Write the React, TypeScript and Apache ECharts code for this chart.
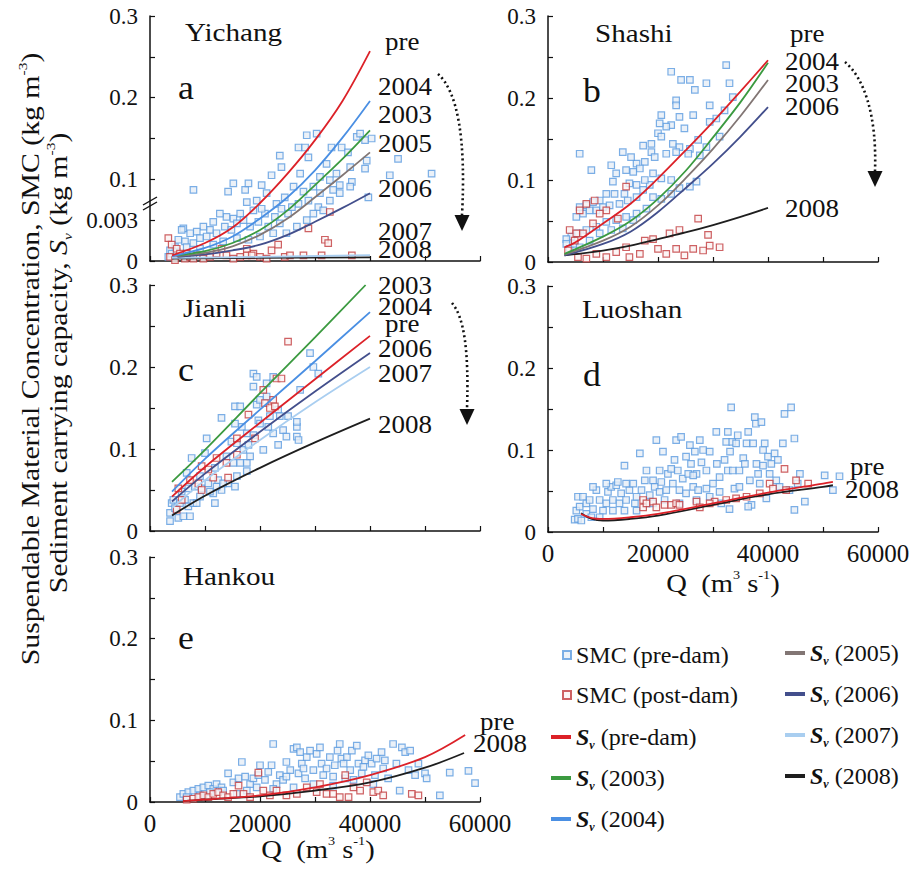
import React, { useEffect, useRef } from 'react';
import * as echarts from 'echarts';

const FONT = 'Liberation Serif';

// ---------- colours ----------
const COL = {
  smcPre: '#5b9be0', smcPreFill: '#e6eef6',
  smcPost: '#c23b3d', smcPostFill: '#fbf3f3',
  pre: '#dc2128', y2003: '#3b9a40', y2004: '#4a8fe3', y2005: '#827674',
  y2006: '#434f8c', y2007: '#a9cef0', y2008: '#1e1e1e',
};

// ---------- axes ----------
const X_TICKS = [0, 20000, 40000, 60000];
const Y_TICKS = [0, 0.1, 0.2, 0.3];

// ---------- (a) Yichang ----------
const yichangPreDam = [[7900,0.087],[14200,0.085],[15150,0.095],[17300,0.087],[17900,0.095],[20300,0.093],[22100,0.105],[23600,0.129],[23900,0.115],[27000,0.139],[28200,0.139],[28500,0.154],[30300,0.156],[28800,0.127],[27300,0.107],[32100,0.119],[33000,0.139],[34850,0.139],[36000,0.133],[37600,0.152],[38200,0.156],[39100,0.148],[40300,0.150],[39400,0.123],[39100,0.113],[36400,0.115],[36700,0.097],[36400,0.091],[34500,0.093],[32700,0.099],[33900,0.107],[30900,0.103],[29700,0.091],[27900,0.085],[26100,0.091],[24500,0.078],[23000,0.070],[21200,0.083],[19400,0.074],[17600,0.072],[18800,0.062],[20900,0.058],[22700,0.054],[25100,0.058],[27000,0.070],[28800,0.074],[30600,0.066],[32700,0.074],[34500,0.083],[39700,0.078],[43600,0.105],[45100,0.125],[51200,0.107],[16400,0.058],[15150,0.052],[13900,0.054],[12700,0.058],[11500,0.048],[10900,0.038],[9700,0.042],[8500,0.036],[7300,0.034],[6060,0.040],[5760,0.038],[6360,0.024],[5150,0.026],[4545,0.017],[3640,0.013],[3330,0.005],[3940,0.009],[4850,0.011],[6670,0.017],[7880,0.022],[9090,0.028],[10300,0.030],[12100,0.034],[13600,0.042],[14800,0.038],[15800,0.046],[17000,0.050],[18200,0.042],[19700,0.048],[21500,0.042],[23600,0.046],[24800,0.034],[22400,0.034],[20000,0.030],[17900,0.026],[15800,0.028],[13300,0.024],[11500,0.020],[9090,0.015],[26700,0.042],[28500,0.050],[29700,0.058],[31500,0.062],[33300,0.087],[30900,0.083],[25800,0.066],[23900,0.064],[20300,0.064]];
const yichangPostDam = [[3330,0.028],[3940,0.020],[4850,0.015],[5450,0.009],[3640,0.005],[4545,0.001],[6360,0.003],[7270,0.005],[8480,0.007],[9700,0.003],[10900,0.005],[12100,0.009],[13000,0.015],[13900,0.007],[15150,0.003],[16400,0.005],[17600,0.007],[18800,0.009],[20000,0.005],[21200,0.003],[22100,0.013],[23300,0.020],[24500,0.005],[25450,0.007],[27900,0.007],[28800,0.040],[31200,0.007],[31800,0.026],[32400,0.022],[32700,0.060],[36700,0.007],[6670,0.009],[7880,0.003],[17600,0.015],[18500,0.007]];
const yichangSvPre = [[4000,0.007],[10000,0.022],[15000,0.041],[20000,0.071],[25000,0.107],[30000,0.148],[35000,0.196],[40000,0.257]];
const yichangSv2004 = [[4000,0.006],[10000,0.016],[15000,0.030],[20000,0.052],[25000,0.078],[30000,0.111],[35000,0.151],[40000,0.196]];
const yichangSv2003 = [[5000,0.007],[10000,0.012],[15000,0.022],[20000,0.038],[25000,0.062],[30000,0.093],[35000,0.125],[40000,0.160]];
const yichangSv2005 = [[5000,0.006],[10000,0.010],[15000,0.018],[20000,0.032],[25000,0.052],[30000,0.078],[35000,0.105],[40000,0.133]];
const yichangSv2006 = [[5000,0.005],[10000,0.008],[15000,0.013],[20000,0.020],[25000,0.032],[30000,0.048],[35000,0.065],[40000,0.083]];
const yichangSv2007 = [[4000,0.004],[20000,0.005],[40000,0.0073]];
const yichangSv2008 = [[4000,0.003],[20000,0.004],[40000,0.0045]];

// ---------- (b) Shashi ----------
const shashiPreDam = [[5760,0.132],[7880,0.112],[11500,0.118],[13600,0.134],[17300,0.142],[18800,0.134],[20600,0.179],[22400,0.167],[22400,0.232],[23300,0.197],[23300,0.191],[24200,0.222],[25800,0.222],[26700,0.210],[28800,0.218],[29400,0.191],[32400,0.240],[33000,0.218],[33600,0.201],[32100,0.185],[30600,0.175],[29400,0.171],[26400,0.179],[23900,0.177],[24800,0.163],[21500,0.165],[20300,0.169],[20000,0.157],[20600,0.153],[18800,0.144],[22700,0.144],[23900,0.140],[25800,0.138],[27300,0.149],[27600,0.130],[28800,0.140],[31200,0.153],[25500,0.132],[23300,0.134],[21500,0.132],[19400,0.128],[17600,0.122],[16100,0.120],[15100,0.128],[14200,0.112],[15500,0.110],[16700,0.114],[19100,0.108],[20600,0.102],[22400,0.100],[18500,0.094],[17600,0.100],[16100,0.094],[14800,0.096],[13900,0.083],[12100,0.083],[12400,0.108],[11800,0.098],[10600,0.083],[9400,0.075],[8180,0.073],[6970,0.069],[5760,0.067],[6360,0.059],[5150,0.055],[7570,0.063],[8790,0.063],[10000,0.067],[11200,0.069],[13000,0.071],[14500,0.075],[16100,0.079],[17300,0.088],[19100,0.079],[20600,0.077],[22400,0.083],[23900,0.090],[25800,0.092],[27000,0.098],[17900,0.065],[16100,0.059],[14200,0.055],[12400,0.051],[10600,0.049],[8790,0.043],[6970,0.039],[5450,0.035],[4240,0.031],[3330,0.028],[3330,0.022],[3940,0.016],[4850,0.022],[5760,0.018],[7570,0.026],[9400,0.035],[11500,0.039],[13600,0.041],[15500,0.051]];
const shashiPostDam = [[3940,0.039],[5150,0.035],[5760,0.063],[6970,0.071],[8480,0.075],[10600,0.063],[14200,0.092],[12700,0.053],[9400,0.059],[8180,0.047],[6360,0.035],[4850,0.026],[3640,0.014],[5450,0.006],[6970,0.004],[8790,0.010],[10600,0.006],[12400,0.012],[14200,0.018],[14800,0.006],[16700,0.010],[17600,0.026],[19100,0.028],[20000,0.016],[21500,0.010],[22100,0.035],[23900,0.039],[23300,0.016],[24800,0.008],[26400,0.016],[27300,0.053],[29400,0.020],[29100,0.033],[31200,0.018],[28200,0.014]];
const shashiSvPre = [[3000,0.018],[5000,0.024],[10000,0.047],[15000,0.071],[20000,0.102],[25000,0.136],[30000,0.171],[35000,0.208],[40000,0.246]];
const shashiSv2003 = [[3000,0.010],[10000,0.031],[15000,0.050],[20000,0.077],[25000,0.111],[30000,0.152],[35000,0.195],[40000,0.243]];
const shashiSv2005 = [[3000,0.009],[10000,0.026],[15000,0.043],[20000,0.069],[25000,0.102],[30000,0.138],[35000,0.178],[40000,0.222]];
const shashiSv2006 = [[3000,0.008],[10000,0.022],[15000,0.037],[20000,0.061],[25000,0.090],[30000,0.120],[35000,0.153],[40000,0.189]];
const shashiSv2008 = [[3000,0.008],[10000,0.014],[15000,0.020],[20000,0.028],[25000,0.036],[30000,0.045],[35000,0.055],[40000,0.066]];

// ---------- (c) Jianli ----------
const jianliPreDam = [[3640,0.012],[3640,0.022],[3940,0.034],[4240,0.038],[4545,0.028],[5150,0.016],[6060,0.018],[7270,0.018],[5450,0.034],[6360,0.038],[6970,0.030],[7880,0.034],[5760,0.048],[6970,0.052],[8180,0.054],[9090,0.042],[9390,0.052],[10600,0.058],[11800,0.034],[11500,0.046],[13000,0.050],[14200,0.058],[15450,0.054],[15800,0.067],[7570,0.089],[10000,0.095],[10300,0.113],[11800,0.077],[13000,0.138],[14800,0.109],[15150,0.083],[15450,0.152],[16400,0.152],[16700,0.127],[16970,0.099],[17600,0.083],[17600,0.073],[18800,0.192],[19400,0.188],[18800,0.176],[19400,0.154],[19700,0.135],[20000,0.131],[18800,0.117],[20600,0.099],[17900,0.105],[21200,0.180],[22400,0.188],[21800,0.140],[23300,0.148],[23600,0.140],[22400,0.119],[23300,0.105],[24200,0.123],[24800,0.115],[25100,0.140],[26700,0.115],[27000,0.111],[27300,0.172],[26700,0.127],[26700,0.133],[29100,0.217],[29700,0.200],[30600,0.192],[12100,0.054],[10900,0.048],[12400,0.062],[13300,0.058],[9090,0.067],[8480,0.034],[6670,0.071],[16400,0.083],[18200,0.091],[17600,0.119],[15450,0.131],[15800,0.107],[13900,0.091],[21500,0.127],[20000,0.160],[21200,0.164]];
const jianliPostDam = [[4850,0.026],[5760,0.038],[5150,0.052],[7270,0.062],[8790,0.058],[9390,0.050],[10600,0.075],[12100,0.089],[11500,0.065],[13900,0.083],[14200,0.065],[15800,0.093],[15800,0.113],[17900,0.142],[19100,0.113],[20600,0.172],[20900,0.156],[21800,0.150],[22400,0.160],[22700,0.152],[23000,0.186],[23900,0.186],[25100,0.231],[9390,0.079]];
const jianliSv2003 = [[4000,0.060],[10000,0.099],[20000,0.168],[30000,0.236],[39200,0.300]];
const jianliSv2004 = [[4000,0.048],[10000,0.088],[20000,0.148],[30000,0.207],[40000,0.267]];
const jianliSvPre = [[4000,0.042],[10000,0.078],[20000,0.132],[30000,0.185],[40000,0.238]];
const jianliSv2006 = [[4000,0.036],[10000,0.070],[20000,0.121],[30000,0.170],[40000,0.217]];
const jianliSv2007 = [[4000,0.028],[10000,0.062],[20000,0.111],[30000,0.157],[40000,0.200]];
const jianliSv2008 = [[4000,0.019],[10000,0.043],[20000,0.077],[30000,0.108],[40000,0.137]];

// ---------- (d) Luoshan ----------
const luoshanPreDam = [[4850,0.015],[5450,0.016],[6060,0.014],[5150,0.026],[5760,0.031],[5450,0.043],[6360,0.043],[6970,0.035],[7570,0.039],[6970,0.022],[7880,0.018],[8180,0.028],[8790,0.051],[9390,0.039],[10000,0.026],[10600,0.035],[10900,0.049],[11500,0.055],[11800,0.039],[12400,0.057],[12700,0.061],[13000,0.035],[13300,0.047],[13900,0.026],[14200,0.039],[13900,0.081],[14800,0.051],[15500,0.059],[15800,0.035],[16100,0.043],[16700,0.096],[17000,0.051],[17600,0.063],[17900,0.035],[18500,0.045],[19100,0.063],[19400,0.055],[19700,0.112],[20300,0.049],[20600,0.061],[20900,0.098],[21200,0.039],[21800,0.071],[22400,0.077],[22700,0.059],[23000,0.088],[23300,0.112],[23600,0.075],[23900,0.051],[24200,0.116],[24500,0.065],[25100,0.092],[25500,0.071],[25800,0.106],[26000,0.083],[26400,0.055],[26700,0.098],[27000,0.071],[27300,0.051],[27600,0.112],[27900,0.085],[28200,0.100],[28800,0.075],[29400,0.098],[30000,0.059],[30600,0.122],[30700,0.083],[31200,0.067],[31500,0.035],[32100,0.088],[32400,0.110],[32700,0.075],[32700,0.122],[33100,0.098],[33300,0.152],[33500,0.110],[33600,0.075],[33900,0.053],[34200,0.108],[34500,0.118],[34800,0.075],[35500,0.090],[35800,0.083],[36100,0.108],[36400,0.122],[36700,0.063],[37000,0.033],[37300,0.108],[37600,0.140],[37800,0.132],[37900,0.083],[38200,0.071],[38800,0.134],[39100,0.100],[39100,0.081],[39400,0.108],[39700,0.041],[40000,0.092],[40300,0.071],[40600,0.083],[41200,0.096],[41500,0.063],[41800,0.088],[42700,0.108],[43000,0.144],[44200,0.152],[44800,0.114],[45400,0.059],[45800,0.071],[46700,0.037],[44800,0.027],[50300,0.069],[51800,0.051],[53000,0.068],[26400,0.069],[21500,0.051],[19100,0.035],[16100,0.026],[33000,0.028],[36400,0.031],[29400,0.043],[27000,0.039],[23900,0.035],[25100,0.047],[28800,0.053],[31200,0.049],[34800,0.055],[38500,0.059],[42100,0.055],[43900,0.051],[14200,0.059],[10600,0.059],[8180,0.055],[11800,0.026],[9390,0.018],[20300,0.075],[17900,0.075]];
const luoshanPostDam = [[17300,0.039],[17300,0.030],[17900,0.035],[19100,0.037],[19700,0.030],[21200,0.033],[22400,0.033],[23300,0.035],[23900,0.033],[27000,0.037],[27600,0.030],[30300,0.037],[32400,0.039],[34200,0.041],[36100,0.043],[38500,0.047],[40300,0.059],[40900,0.053],[43000,0.077],[43300,0.051],[45100,0.063],[47300,0.059],[29400,0.035]];
const luoshanSvPre = [[6000,0.022],[8000,0.017],[10000,0.016],[15000,0.018],[20000,0.022],[30000,0.035],[40000,0.048],[50000,0.059],[51800,0.061]];
const luoshanSv2008 = [[6000,0.023],[8000,0.016],[10000,0.014],[15000,0.016],[20000,0.020],[30000,0.033],[40000,0.046],[50000,0.055],[51800,0.057]];

// ---------- (e) Hankou ----------
const hankouPreDam = [[5450,0.006],[6060,0.010],[6970,0.012],[7880,0.014],[8790,0.016],[9700,0.018],[10600,0.020],[11500,0.016],[12100,0.022],[13000,0.018],[14200,0.035],[15150,0.024],[16100,0.029],[16700,0.049],[17300,0.031],[18200,0.022],[18800,0.029],[19700,0.033],[20000,0.045],[20900,0.027],[21500,0.037],[22100,0.045],[22400,0.071],[23000,0.022],[23600,0.033],[24200,0.027],[24800,0.049],[25500,0.039],[26100,0.065],[26700,0.067],[27000,0.035],[27300,0.061],[27600,0.047],[28200,0.029],[28500,0.055],[29100,0.063],[29700,0.039],[30300,0.059],[30900,0.067],[31200,0.047],[32100,0.041],[32700,0.055],[33300,0.031],[33600,0.045],[34100,0.063],[34500,0.071],[34800,0.053],[35500,0.029],[35800,0.055],[36400,0.039],[36700,0.063],[37600,0.069],[37900,0.047],[38500,0.035],[39100,0.051],[39700,0.057],[40300,0.047],[40900,0.033],[41200,0.053],[42100,0.061],[42700,0.051],[43300,0.029],[44200,0.071],[44800,0.047],[45400,0.014],[45800,0.067],[46400,0.061],[47000,0.039],[47300,0.063],[48200,0.033],[48800,0.047],[50000,0.035],[50300,0.029],[52700,0.008],[54500,0.036],[57900,0.038],[59100,0.023],[15800,0.010],[17600,0.014],[19400,0.018],[22400,0.016],[26100,0.018],[29700,0.022],[33300,0.020],[37000,0.027],[40600,0.022],[24800,0.031],[27900,0.041],[31500,0.033],[35200,0.047],[38800,0.043],[42400,0.041],[6670,0.006],[9090,0.008],[10900,0.012],[13300,0.014]];
const hankouPostDam = [[6670,0.003],[7880,0.004],[8790,0.006],[9700,0.008],[10600,0.006],[11500,0.010],[12400,0.012],[13300,0.008],[14200,0.006],[15150,0.010],[16100,0.020],[17000,0.010],[18200,0.006],[19700,0.036],[20600,0.014],[21800,0.008],[23000,0.014],[24800,0.008],[26700,0.010],[28500,0.018],[30300,0.012],[30900,0.022],[32100,0.010],[33300,0.010],[34500,0.006],[35500,0.033],[36100,0.006],[37000,0.018],[38200,0.014],[39400,0.024],[40600,0.012],[41500,0.014],[42400,0.008],[47600,0.010],[48800,0.008]];
const hankouSvPre = [[6000,0.001],[10000,0.003],[20000,0.008],[30000,0.018],[40000,0.033],[50000,0.055],[57300,0.082]];
const hankouSv2008 = [[6000,0.001],[10000,0.003],[20000,0.007],[30000,0.014],[40000,0.024],[50000,0.042],[57100,0.060]];

// ---------- legend names ----------
const LEG_SMC = ['SMC (pre-dam)', 'SMC (post-dam)'];
const LEG_SV1 = ['Sv (pre-dam)', 'Sv (2003)', 'Sv (2004)'];
const LEG_SV2 = ['Sv (2005)', 'Sv (2006)', 'Sv (2007)', 'Sv (2008)'];

function scatter(name: string, data: number[][], idx: number, border: string, fill: string) {
  return {
    type: 'scatter', name, data, xAxisIndex: idx, yAxisIndex: idx,
    symbol: 'rect', symbolSize: 6.5,
    itemStyle: { color: fill, borderColor: border, borderWidth: 1.2 },
    z: 2, silent: true,
  };
}
function line(name: string, data: number[][], idx: number, color: string) {
  return {
    type: 'line', name, data, xAxisIndex: idx, yAxisIndex: idx,
    smooth: 0.35, showSymbol: false, symbol: 'none',
    lineStyle: { color, width: 1.8 }, itemStyle: { color },
    z: 3, silent: true,
  };
}

function txt(text: string, x: number, y: number, size = 25, sx = 1.08, extra: any = {}) {
  return {
    type: 'text', x, y, scaleX: sx, z: 20, silent: true,
    style: { text, fontFamily: FONT, fontSize: size, fill: '#111', align: 'left', verticalAlign: 'middle', ...extra },
  };
}
function arrow(x1: number, y1: number, c1x: number, c1y: number, c2x: number, c2y: number, x2: number, y2: number, tipY: number) {
  return [
    { type: 'bezierCurve', z: 20, silent: true, shape: { x1, y1, cpx1: c1x, cpy1: c1y, cpx2: c2x, cpy2: c2y, x2, y2 },
      style: { stroke: '#111', lineWidth: 2.6, lineDash: [2, 3], fill: 'none' } },
    { type: 'polygon', z: 20, silent: true, shape: { points: [[x2 - 7.5, y2], [x2 + 7.5, y2], [x2, tipY]] }, style: { fill: '#111' } },
  ];
}

const GRIDS = [
  { left: 150, top: 16, width: 330, height: 245 },
  { left: 548, top: 16, width: 330, height: 246 },
  { left: 150, top: 285, width: 330, height: 246 },
  { left: 548, top: 286, width: 330, height: 246 },
  { left: 150, top: 557, width: 330, height: 245 },
];

export default function App() {
  const ref = useRef<HTMLDivElement>(null);
  useEffect(() => {
    if (!ref.current) return;
    const chart = echarts.init(ref.current, undefined, { renderer: 'svg' });
    const axisLine = { show: true, lineStyle: { color: '#111', width: 1.5 } };
    const axisTick = { show: true, inside: true, length: 5, lineStyle: { color: '#111', width: 1.2 } };
    const labelBase = { fontFamily: FONT, fontSize: 25, color: '#111', lineHeight: 20 };

    const xAxis = GRIDS.map((_, i) => ({
      gridIndex: i, type: 'value', min: 0, max: 60000, interval: 10000,
      axisLine, axisTick, splitLine: { show: false },
      axisLabel: {
        show: i === 3 || i === 4, ...labelBase, margin: 11, showMinLabel: true, showMaxLabel: true,
        formatter: (v: number) => (X_TICKS.includes(v) ? String(v) : ''),
      },
    }));
    const yAxis = GRIDS.map((_, i) => ({
      gridIndex: i, type: 'value', min: 0, max: 0.3, interval: 0.05,
      axisLine, axisTick, splitLine: { show: false },
      axisLabel: {
        ...labelBase, fontSize: 23, lineHeight: 18, margin: 12, showMinLabel: true, showMaxLabel: true,
        formatter: (v: number) => {
          const k = Math.round(v * 20);
          if (k % 2 === 1) return i === 0 && k === 1 ? '0.003' : '';
          const t = Y_TICKS.find((y) => Math.abs(y - v) < 1e-9);
          return t === undefined ? '' : t === 0 ? '0' : t.toFixed(1);
        },
      },
    }));

    const series: any[] = [
      scatter('SMC (pre-dam)', yichangPreDam, 0, COL.smcPre, COL.smcPreFill),
      scatter('SMC (post-dam)', yichangPostDam, 0, COL.smcPost, COL.smcPostFill),
      line('Sv (2008)', yichangSv2008, 0, COL.y2008),
      line('Sv (2007)', yichangSv2007, 0, COL.y2007),
      line('Sv (2006)', yichangSv2006, 0, COL.y2006),
      line('Sv (2005)', yichangSv2005, 0, COL.y2005),
      line('Sv (2003)', yichangSv2003, 0, COL.y2003),
      line('Sv (2004)', yichangSv2004, 0, COL.y2004),
      line('Sv (pre-dam)', yichangSvPre, 0, COL.pre),

      scatter('SMC (pre-dam)', shashiPreDam, 1, COL.smcPre, COL.smcPreFill),
      scatter('SMC (post-dam)', shashiPostDam, 1, COL.smcPost, COL.smcPostFill),
      line('Sv (2008)', shashiSv2008, 1, COL.y2008),
      line('Sv (2006)', shashiSv2006, 1, COL.y2006),
      line('Sv (2005)', shashiSv2005, 1, COL.y2005),
      line('Sv (2003)', shashiSv2003, 1, COL.y2003),
      line('Sv (pre-dam)', shashiSvPre, 1, COL.pre),

      scatter('SMC (pre-dam)', jianliPreDam, 2, COL.smcPre, COL.smcPreFill),
      scatter('SMC (post-dam)', jianliPostDam, 2, COL.smcPost, COL.smcPostFill),
      line('Sv (2008)', jianliSv2008, 2, COL.y2008),
      line('Sv (2007)', jianliSv2007, 2, COL.y2007),
      line('Sv (2006)', jianliSv2006, 2, COL.y2006),
      line('Sv (pre-dam)', jianliSvPre, 2, COL.pre),
      line('Sv (2004)', jianliSv2004, 2, COL.y2004),
      line('Sv (2003)', jianliSv2003, 2, COL.y2003),

      scatter('SMC (pre-dam)', luoshanPreDam, 3, COL.smcPre, COL.smcPreFill),
      scatter('SMC (post-dam)', luoshanPostDam, 3, COL.smcPost, COL.smcPostFill),
      line('Sv (2008)', luoshanSv2008, 3, COL.y2008),
      line('Sv (pre-dam)', luoshanSvPre, 3, COL.pre),

      scatter('SMC (pre-dam)', hankouPreDam, 4, COL.smcPre, COL.smcPreFill),
      scatter('SMC (post-dam)', hankouPostDam, 4, COL.smcPost, COL.smcPostFill),
      line('Sv (2008)', hankouSv2008, 4, COL.y2008),
      line('Sv (pre-dam)', hankouSvPre, 4, COL.pre),
    ];

    const legendText = {
      fontFamily: FONT, fontSize: 24, color: '#111', lineHeight: 28,
      rich: {
        s: { fontFamily: FONT, fontSize: 24, fontWeight: 'bold', fontStyle: 'italic', color: '#111', lineHeight: 28 },
        v: { fontFamily: FONT, fontSize: 12, fontWeight: 'bold', fontStyle: 'italic', color: '#111', verticalAlign: 'bottom' },
        t: { fontFamily: FONT, fontSize: 24, color: '#111', lineHeight: 28 },
      },
    };
    const fmt = (name: string) => (name.startsWith('Sv') ? `{s|S}{v|v}{t| ${name.slice(2).trim()}}` : name);
    const legend = [
      { data: LEG_SMC.map((n) => ({ name: n, icon: 'rect' })), orient: 'vertical', left: 562, top: 641, padding: 0,
        itemWidth: 8, itemHeight: 8, itemGap: 12, textStyle: legendText, formatter: fmt, selectedMode: false },
      { data: LEG_SV1.map((n) => ({ name: n, icon: 'rect' })), orient: 'vertical', left: 551, top: 723, padding: 0,
        itemWidth: 20, itemHeight: 4, itemGap: 13, textStyle: legendText, formatter: fmt, selectedMode: false },
      { data: LEG_SV2.map((n) => ({ name: n, icon: 'rect' })), orient: 'vertical', left: 785, top: 639, padding: 0,
        itemWidth: 20, itemHeight: 4, itemGap: 13, textStyle: legendText, formatter: fmt, selectedMode: false },
    ];

    const supRich = {
      sup: { fontFamily: FONT, fontSize: 13, fill: '#111', verticalAlign: 'top', lineHeight: 30 },
      sub: { fontFamily: FONT, fontSize: 13, fontStyle: 'italic', fill: '#111', verticalAlign: 'bottom' },
      i: { fontFamily: FONT, fontSize: 25, fontStyle: 'italic', fill: '#111', lineHeight: 30 },
    };

    const graphic: any[] = [
      // y title
      { type: 'text', x: 31, y: 359, rotation: Math.PI / 2, scaleX: 1.19, z: 20, silent: true,
        style: { text: 'Suspendable Material Concentration, SMC (kg m{sup|-3})', fontFamily: FONT, fontSize: 25, lineHeight: 30,
          fill: '#111', align: 'center', verticalAlign: 'middle', rich: supRich } },
      { type: 'text', x: 59, y: 363, rotation: Math.PI / 2, scaleX: 1.19, z: 20, silent: true,
        style: { text: 'Sediment carrying capacity, {i|S}{sub|v} (kg m{sup|-3})', fontFamily: FONT, fontSize: 25, lineHeight: 30,
          fill: '#111', align: 'center', verticalAlign: 'middle', rich: supRich } },
      // x titles
      { type: 'text', x: 723, y: 583, scaleX: 1.1, z: 20, silent: true,
        style: { text: 'Q  (m{sup|3} s{sup|-1})', fontFamily: FONT, fontSize: 26, lineHeight: 30, fill: '#111', align: 'center', verticalAlign: 'middle', rich: supRich } },
      { type: 'text', x: 318, y: 849, scaleX: 1.1, z: 20, silent: true,
        style: { text: 'Q  (m{sup|3} s{sup|-1})', fontFamily: FONT, fontSize: 26, lineHeight: 30, fill: '#111', align: 'center', verticalAlign: 'middle', rich: supRich } },
      // axis break on (a)
      { type: 'line', z: 21, silent: true, shape: { x1: 143, y1: 210, x2: 157, y2: 202 }, style: { stroke: '#111', lineWidth: 1.4 } },
      { type: 'line', z: 21, silent: true, shape: { x1: 143, y1: 205, x2: 157, y2: 197 }, style: { stroke: '#111', lineWidth: 1.4 } },
      // panel (a)
      txt('Yichang', 185, 32, 26, 1.12), txt('a', 178, 88, 34, 1.05),
      txt('pre', 385, 41.5), txt('2004', 378, 86.5), txt('2003', 378, 114.5), txt('2005', 378, 143.5),
      txt('2006', 378, 188.5), txt('2007', 378, 231.5), txt('2008', 378, 249.5),
      // panel (b)
      txt('Shashi', 595, 33, 26, 1.12), txt('b', 583, 91, 34, 1.05),
      txt('pre', 790, 33.5), txt('2004', 785, 61.5), txt('2003', 785, 83.5), txt('2006', 785, 106.5), txt('2008', 785, 208.5),
      // panel (c)
      txt('Jianli', 183, 308, 26, 1.12), txt('c', 178, 370, 34, 1.05),
      txt('2003', 378, 285.5), txt('2004', 378, 306.5), txt('pre', 385, 323.5), txt('2006', 378, 348.5),
      txt('2007', 378, 373.5), txt('2008', 378, 424.5),
      // panel (d)
      txt('Luoshan', 582, 309, 26, 1.12), txt('d', 583, 375, 34, 1.05),
      txt('pre', 850, 466.5), txt('2008', 845, 489.5),
      // panel (e)
      txt('Hankou', 183, 576, 26, 1.12), txt('e', 178, 638, 34, 1.05),
      txt('pre', 480, 721.5), txt('2008', 473, 743.5),
      // arrows
      ...arrow(438, 74, 458, 92, 466, 140, 462, 215, 231),
      ...arrow(845, 62, 864, 78, 877, 115, 875, 171, 187),
      ...arrow(452, 303, 464, 317, 469, 350, 467, 409, 425),
    ];

    chart.setOption({
      animation: false,
      backgroundColor: '#fff',
      textStyle: { fontFamily: FONT },
      grid: GRIDS.map((g) => ({ ...g, containLabel: false })),
      xAxis, yAxis, series, legend, graphic,
    });
    return () => chart.dispose();
  }, []);
  return <div ref={ref} style={{ position: 'absolute', left: 0, top: 0, width: 920, height: 871 }} />;
}
